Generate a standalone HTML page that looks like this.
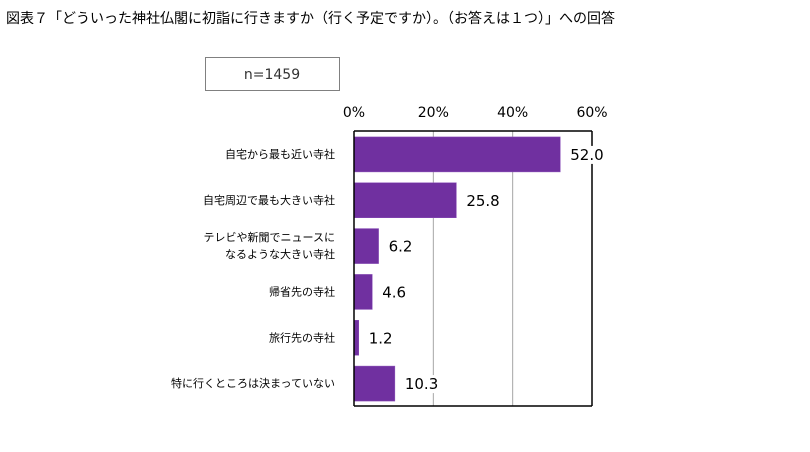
<!DOCTYPE html>
<html><head><meta charset="utf-8"><style>
body{margin:0;background:#fff;}
svg text{font-family:"Liberation Sans","Noto Sans CJK JP",sans-serif;}
svg text.num{font-family:"DejaVu Sans","Liberation Sans",sans-serif;}
</style></head><body>
<svg width="810" height="447" xmlns="http://www.w3.org/2000/svg">
<rect width="810" height="447" fill="#fff"/>
<text x="6" y="23" font-size="14" fill="#000">図表７「どういった神社仏閣に初詣に行きますか（行く予定ですか）。（お答えは１つ）」への回答</text>
<rect x="205.5" y="57.5" width="134" height="33" fill="#fff" stroke="#808080"/>
<text class="num" x="272" y="79" font-size="14" text-anchor="middle" fill="#333">n=1459</text>
<g id="plot"></g>
</svg>
<script>
const categories=[["自宅から最も近い寺社"],["自宅周辺で最も大きい寺社"],["テレビや新聞でニュースに","なるような大きい寺社"],["帰省先の寺社"],["旅行先の寺社"],["特に行くところは決まっていない"]];
const values=[52.0,25.8,6.2,4.6,1.2,10.3];
const ticks=[0,20,40,60];
const tickLabels=["0%","20%","40%","60%"];
const L=354,R=592,T=131,B=406,MAX=60;
const xs=v=>L+(R-L)*v/MAX;
const slot=(B-T)/categories.length;
const ys=i=>T+slot*i;
const ns="http://www.w3.org/2000/svg";
const g=document.getElementById('plot');
function mk(t,a){const e=document.createElementNS(ns,t);for(const k in a)e.setAttribute(k,a[k]);g.appendChild(e);return e;}
ticks.forEach((t,i)=>{
 if(t>0&&t<MAX){const l=mk('line',{x1:xs(t),x2:xs(t),y1:T,y2:B,stroke:'#a6a6a6','stroke-width':1});
 
 }
 const tx=mk('text',{x:xs(t),y:117,'font-size':14,'text-anchor':'middle',fill:'#000','class':'num'});tx.textContent=tickLabels[i];
 
 
});
values.forEach((v,i)=>{
 const y=ys(i)+slot/2;
 const r=mk('rect',{x:L,y:y-17,width:xs(v)-L,height:35,fill:'#7030a0',stroke:'#8a4fb8','stroke-width':0.5});
 
 
 const lines=categories[i];
 lines.forEach((s,j)=>{
  const ct=mk('text',{x:335,y:y+4+(j-(lines.length-1)/2)*17,'font-size':11,'text-anchor':'end',fill:'#000'});ct.textContent=s;
  
  
 });
});
const ax=mk('path',{d:`M${L} ${B}V${T}M${R} ${T}V${B}M${L} ${B}H${R}M${L} ${T}H${R}`,stroke:'#000','stroke-width':1.5,fill:'none'});


values.forEach((v,i)=>{
 const y=ys(i)+slot/2;
 const vt=mk('text',{x:xs(v)+10,y:y+6,'font-size':15,fill:'#000','class':'num'});vt.textContent=v.toFixed(1);
 
 
 const bb=vt.getBBox();
 const bg=document.createElementNS(ns,'rect');
 bg.setAttribute('x',bb.x-2);bg.setAttribute('y',bb.y);bg.setAttribute('width',bb.width+4);bg.setAttribute('height',bb.height);bg.setAttribute('fill','#fff');
 
 
 g.insertBefore(bg,vt);
});
</script>
</body></html>
